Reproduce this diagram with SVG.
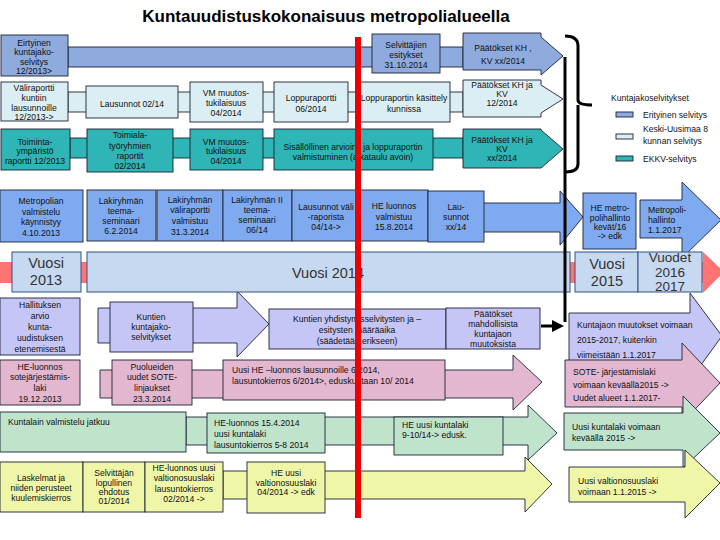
<svg xmlns="http://www.w3.org/2000/svg" width="720" height="540" viewBox="0 0 720 540">
<style>
text{font-family:"Liberation Sans",Arial,sans-serif;font-size:8.6px;fill:#111;text-anchor:middle}
.l{text-anchor:start}
.yr{font-size:14.5px;fill:#333}
.yr2{font-size:13.5px;fill:#333}
.ttl{font-size:17px;font-weight:bold;fill:#000}
.s{stroke:#1c2333;stroke-width:0.9}
.c1{fill:#8faadc}.c2{fill:#dbeef4}.c3{fill:#2fb5b5}.c4{fill:#80aaf0}.c5{fill:#c6d9f1;stroke:#2f5282;stroke-width:1}
.c6{fill:#c6c6f6}.c7{fill:#e3b7cf}.c8{fill:#bfe4cb}.c9{fill:#eff6a8}
</style>
<defs>
<marker id="ah" markerWidth="4" markerHeight="4" refX="2" refY="2" orient="auto" markerUnits="strokeWidth"><path d="M0,0 L4,2 L0,4 Z" fill="#000"/></marker>
</defs>
<rect width="720" height="540" fill="#fff"/>
<text class="ttl" x="326" y="22">Kuntauudistuskokonaisuus metropolialueella</text>

<g id="connectors">
<rect class="c1 s" x="68" y="47" width="395" height="20"/>
<rect class="c2 s" x="68" y="92" width="395" height="20"/>
<rect class="c3 s" x="70" y="138" width="393" height="20"/>
<path class="c4 s" d="M470,203 H560 V191 L583,217 L560,245 V232 H470 Z"/>
<path d="M0,262 H703 V252 L724,272 L703,293 V283 H0 Z" fill="#ff7373"/>
<path class="c6 s" d="M98,308 H237 V291 L269,324 L237,357 V343 H98 Z"/>
<path class="c7 s" d="M100,370 H513 V355 L542,382 L513,410 V398 H100 Z"/>
<path class="c8 s" d="M186,417 H528 V405 L557,433 L528,460 V445 H186 Z"/>
<path class="c9 s" d="M223,471 H525 V457 L552,484 L525,512 V499 H223 Z"/>
</g>

<g id="erityinen"><rect class="c1 s" x="1" y="35" width="67" height="41"/>
<text x="34" y="46">Eirtyinen</text><text x="34" y="55">kuntajako-</text><text x="34" y="65">selvitys</text><text x="34" y="74">12/2013&gt;</text></g>
<g id="selvittajien"><rect class="c1 s" x="372" y="34" width="68" height="39"/>
<text x="406" y="48">Selvittäjien</text><text x="406" y="58">esitykset</text><text x="406" y="68">31.10.2014</text></g>
<g id="paatokset1"><path class="c1 s" d="M463,33 H541 V37 L563,56 L541,75 V70 H463 Z"/>
<text x="503" y="51">Päätökset KH ,</text><text x="503" y="64">KV xx/2014</text></g>

<g id="valiraportti"><rect class="c2 s" x="1" y="82" width="67" height="39"/>
<text x="34" y="91">Väliraportti</text><text x="34" y="101">kuntiin</text><text x="34" y="111">lausunnoille</text><text x="34" y="120">12/2013-&gt;</text></g>
<g id="lausunnot"><rect class="c2 s" x="86" y="86" width="92" height="32"/><text x="132" y="107">Lausunnot 02/14</text></g>
<g id="vm1"><rect class="c2 s" x="190" y="82" width="73" height="40"/>
<text x="226" y="96">VM muutos-</text><text x="226" y="106">tukilaisuus</text><text x="226" y="116">04/2014</text></g>
<g id="loppuraportti"><rect class="c2 s" x="274" y="82" width="74" height="40"/>
<text x="311" y="101">Loppuraportti</text><text x="311" y="112">06/2014</text></g>
<g id="kasittely"><rect class="c2 s" x="358" y="82" width="92" height="40"/>
<text x="404" y="101">Loppuraportin käsittely</text><text x="404" y="112">kunnissa</text></g>
<g id="paatokset2"><path class="c2 s" d="M463,80 H541 V85 L563,99 L541,113 V117 H463 Z"/>
<text x="502" y="88">Päätökset KH ja</text><text x="502" y="97">KV</text><text x="502" y="106">12/2014</text></g>

<g id="toimintaymparisto"><rect class="c3 s" x="1" y="129" width="69" height="41"/>
<text x="35" y="145">Toiminta-</text><text x="35" y="154">ympäristö</text><text x="35" y="164">raportti 12/2013</text></g>
<g id="toimiala"><rect class="c3 s" x="87" y="129" width="86" height="43"/>
<text x="130" y="138">Toimiala-</text><text x="130" y="149">työryhmien</text><text x="130" y="159">raportit</text><text x="130" y="169">02/2014</text></g>
<g id="vm2"><rect class="c3 s" x="190" y="129" width="73" height="41"/>
<text x="226" y="145">VM muutos-</text><text x="226" y="154">tukilaisuus</text><text x="226" y="164">04/2014</text></g>
<g id="sisallollinen"><rect class="c3 s" x="274" y="129" width="159" height="41"/>
<text x="353" y="150">Sisällöllinen arviointi ja loppuraportin</text><text x="353" y="160">valmistuminen (aikataulu avoin)</text></g>
<g id="paatokset3"><path class="c3 s" d="M463,129 H541 V130 L563,149 L541,168 H463 Z"/>
<text x="502" y="143">Päätökset KH ja</text><text x="502" y="152">KV</text><text x="502" y="161">xx/2014</text></g>

<g id="legend">
<text class="l" x="611" y="101">Kuntajakoselvitykset</text>
<rect class="c1 s" x="616" y="112" width="17" height="5"/><text class="l" x="643" y="118">Erityinen selvitys</text>
<rect class="c2 s" x="616" y="134" width="17" height="5"/><text class="l" x="643" y="132">Keski-Uusimaa 8</text><text class="l" x="643" y="144">kunnan selvitys</text>
<rect class="c3 s" x="616" y="156" width="17" height="5"/><text class="l" x="643" y="162">EKKV-selvitys</text>
</g>

<g id="metropolian"><rect class="c4 s" x="0" y="190" width="83" height="52"/>
<text x="41" y="204">Metropolian</text><text x="41" y="215">valmistelu</text><text x="41" y="225">käynnistyy</text><text x="41" y="236">4.10.2013</text></g>
<g id="lakiryhma1"><rect class="c4 s" x="87" y="190" width="69" height="51"/>
<text x="121" y="204">Lakiryhmän</text><text x="121" y="214">teema-</text><text x="121" y="224">seminaari</text><text x="121" y="234">6.2.2014</text></g>
<g id="lakiryhma2"><rect class="c4 s" x="157" y="190" width="66" height="51"/>
<text x="190" y="203">Lakiryhmän</text><text x="190" y="213">väliraportti</text><text x="190" y="224">valmistuu</text><text x="190" y="235">31.3.2014</text></g>
<g id="lakiryhma3"><rect class="c4 s" x="223" y="190" width="69" height="51"/>
<text x="257" y="203">Lakiryhmän II</text><text x="257" y="213">teema-</text><text x="257" y="223">seminaari</text><text x="257" y="233">06/14</text></g>
<g id="lausunnotvali"><rect class="c4 s" x="292" y="190" width="68" height="51"/>
<text x="326" y="210">Lausunnot väli</text><text x="326" y="220">-raporista</text><text x="326" y="230">04/14-&gt;</text></g>
<g id="heluonnos"><rect class="c4 s" x="360" y="190" width="68" height="51"/>
<text x="394" y="209">HE luonnos</text><text x="394" y="220">valmistuu</text><text x="394" y="230">15.8.2014</text></g>
<g id="lausunnotxx"><rect class="c4 s" x="428" y="191" width="56" height="51"/>
<text x="456" y="210">Lau-</text><text x="456" y="220">sunnot</text><text x="456" y="230">xx/14</text></g>
<g id="hemetro"><rect class="c4 s" x="583" y="193" width="53" height="56"/>
<text x="610" y="211">HE metro-</text><text x="610" y="221">polihallinto</text><text x="610" y="230">kevät/16</text><text x="610" y="239">-&gt; edk</text></g>
<g id="metropolihallinto"><path class="c4 s" d="M640,200 H682 V182 L721,220 L682,258 V238 H640 Z"/>
<text class="l" x="648" y="213">Metropoli-</text><text class="l" x="648" y="223">hallinto</text><text class="l" x="648" y="233">1.1.2017</text></g>

<g id="vuosi2013"><rect class="c5" x="12" y="252" width="69" height="40"/>
<text class="yr" x="46" y="268">Vuosi</text><text class="yr" x="46" y="285">2013</text></g>
<g id="vuosi2014"><rect class="c5" x="87" y="252" width="483" height="40"/>
<text class="yr" x="328" y="278">Vuosi 2014</text></g>
<g id="vuosi2015"><rect class="c5" x="575" y="252" width="63" height="40"/>
<text class="yr" x="607" y="269">Vuosi</text><text class="yr" x="607" y="286">2015</text></g>
<g id="vuodet"><rect class="c5" x="638" y="252" width="64" height="40"/>
<text class="yr2" x="670" y="262">Vuodet</text><text class="yr2" x="670" y="277">2016</text><text class="yr2" x="670" y="291">2017</text></g>

<g id="hallituksen"><rect class="c6 s" x="0" y="298" width="80" height="57"/>
<text x="40" y="308">Hallituksen</text><text x="40" y="319">arvio</text><text x="40" y="330">kunta-</text><text x="40" y="341">uudistuksen</text><text x="40" y="352">etenemisestä</text></g>
<g id="kuntienkuntajako"><rect class="c6 s" x="110" y="302" width="83" height="50"/>
<text x="151" y="320">Kuntien</text><text x="151" y="330">kuntajako-</text><text x="151" y="340">selvitykset</text></g>
<g id="yhdistymis"><rect class="c6 s" x="269" y="309" width="177" height="40"/>
<text x="357" y="322">Kuntien yhdistymisselvitysten ja –</text><text x="357" y="333">esitysten määräaika</text><text x="357" y="344">(säädetään erikseen)</text></g>
<g id="paatoksetmahd"><rect class="c6 s" x="446" y="308" width="94" height="41"/>
<text x="493" y="317">Päätökset</text><text x="493" y="327">mahdollisista</text><text x="493" y="337">kuntajaon</text><text x="493" y="347">muutoksista</text></g>
<g id="kuntajaonmuutokset"><path class="c6 s" d="M569,313 H690 V293 L722,336 L690,380 V362 H569 Z"/>
<text class="l" x="577" y="328">Kuntajaon muutokset voimaan</text><text class="l" x="577" y="343">2015-2017, kuitenkin</text><text class="l" x="577" y="358">viimeistään 1.1.2017</text></g>

<g id="hesote"><rect class="c7 s" x="0" y="360" width="80" height="45"/>
<text x="40" y="370">HE-luonnos</text><text x="40" y="380">sotejärjestämis-</text><text x="40" y="391">laki</text><text x="40" y="402">19.12.2013</text></g>
<g id="puolueiden"><rect class="c7 s" x="112" y="360" width="80" height="45"/>
<text x="152" y="370">Puolueiden</text><text x="152" y="380">uudet SOTE-</text><text x="152" y="391">linjaukset</text><text x="152" y="402">23.3.2014</text></g>
<g id="uusihe"><rect class="c7 s" x="223" y="360" width="222" height="40"/>
<text class="l" x="232" y="373">Uusi HE –luonnos lausunnoille 6/2014,</text><text class="l" x="232" y="384">lausuntokierros 6/2014&gt;,  eduskuntaan 10/ 2014</text></g>
<g id="sotevoimaan"><path class="c7 s" d="M565,360 H682 V343 L720,383 L682,423 V407 H565 Z"/>
<text class="l" x="573" y="375">SOTE- järjestämislaki</text><text class="l" x="573" y="388">voimaan keväällä2015 -&gt;</text><text class="l" x="573" y="401">Uudet alueet  1.1.2017-</text></g>

<g id="kuntalain"><rect class="c8 s" x="0" y="412" width="186" height="40"/>
<text class="l" x="8" y="425">Kuntalain valmistelu jatkuu</text></g>
<g id="heluonnoskunta"><rect class="c8 s" x="207" y="413" width="118" height="40"/>
<text class="l" x="214" y="426">HE-luonnos   15.4.2014</text><text class="l" x="214" y="437">uusi kuntalaki</text><text class="l" x="214" y="448">lausuntokierros  5-8 2014</text></g>
<g id="heuusikunta"><rect class="c8 s" x="394" y="417" width="109" height="38"/>
<text class="l" x="402" y="428">HE uusi kuntalaki</text><text class="l" x="402" y="438">9-10/14-&gt; edusk.</text></g>
<g id="kuntalakivoimaan"><path class="c8 s" d="M564,413 H683 V396 L720,433 L683,468 V450 H564 Z"/>
<text class="l" x="572" y="430">Uusi kuntalaki voimaan</text><text class="l" x="572" y="441">keväällä 2015 -&gt;</text></g>

<g id="laskelmat"><rect class="c9 s" x="0" y="462" width="83" height="50"/>
<text x="41" y="481">Laskelmat ja</text><text x="41" y="491">niiden perusteet</text><text x="41" y="501">kuulemiskierros</text></g>
<g id="selvittajan"><rect class="c9 s" x="83" y="462" width="62" height="50"/>
<text x="114" y="476">Selvittäjän</text><text x="114" y="486">lopullinen</text><text x="114" y="495">ehdotus</text><text x="114" y="504">01/2014</text></g>
<g id="heluonnosvos"><rect class="c9 s" x="145" y="462" width="78" height="50"/>
<text x="184" y="471">HE-luonnos uusi</text><text x="184" y="481">valtionosuuslaki</text><text x="184" y="492">lausuntokierros</text><text x="184" y="502">02/2014 -&gt;</text></g>
<g id="heuusivos"><rect class="c9 s" x="247" y="462" width="78" height="51"/>
<text x="286" y="476">HE uusi</text><text x="286" y="486">valtionosuuslaki</text><text x="286" y="495">04/2014 -&gt; edk</text></g>
<g id="vosvoimaan"><path class="c9 s" d="M569,467 H685 V450 L720,483 L685,518 V502 H569 Z"/>
<text class="l" x="578" y="484">Uusi valtionosuuslaki</text><text class="l" x="578" y="495">voimaan 1.1.2015 -&gt;</text></g>

<g id="lines">
<path d="M565,36 Q578,36 578,46 V100 Q578,105 592,105 M578,105 V164 Q578,172 565,172" fill="none" stroke="#000" stroke-width="3"/>
<path d="M565,57 V322" fill="none" stroke="#000" stroke-width="3"/>
<line x1="541" y1="326" x2="558" y2="326" stroke="#000" stroke-width="3" marker-end="url(#ah)"/>
</g>
<g id="today-line"><rect x="355" y="37" width="6" height="481" fill="#ee0000"/></g>
</svg>
